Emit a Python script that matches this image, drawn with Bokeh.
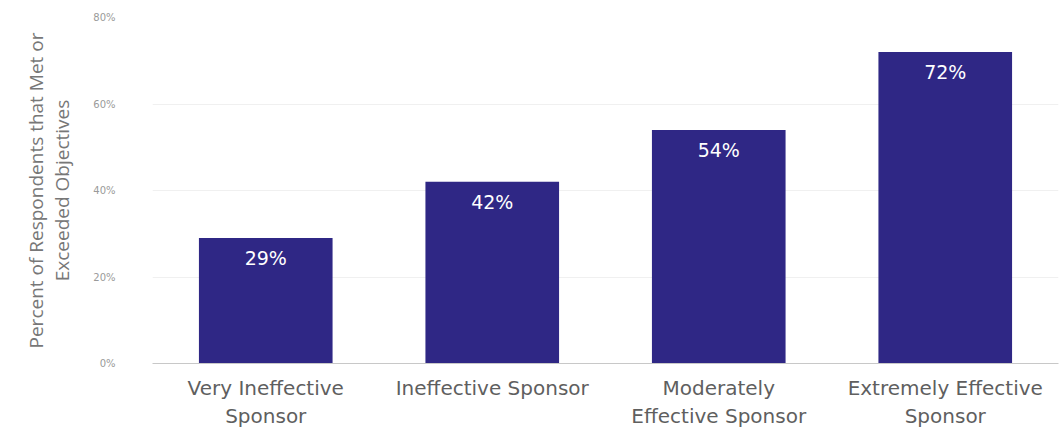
from bokeh.plotting import figure
from bokeh.models import ColumnDataSource, Range1d, FixedTicker, CustomJSTickFormatter
from bokeh.embed import file_html
from bokeh.resources import INLINE
from bokeh.core.properties import value

categories = ["Very Ineffective\nSponsor", "Ineffective Sponsor", "Moderately\nEffective Sponsor", "Extremely Effective\nSponsor"]
values = [29, 42, 54, 72]
labels = ["29%", "42%", "54%", "72%"]
y_ticks = [0, 20, 40, 60, 80]

src = ColumnDataSource(dict(cat=categories, val=values, lab=labels))

p = figure(x_range=categories, y_range=Range1d(0, 80), width=1062, height=431,
           output_backend="svg", toolbar_location=None,
           min_border_left=152, min_border_right=4, min_border_top=17, min_border_bottom=68)
p.outline_line_color = None
p.background_fill_color = "white"
p.border_fill_color = "white"

p.vbar(x="cat", top="val", width=0.59, source=src, fill_color="#2f2785", line_color=None)
p.text(x="cat", y="val", text="lab", source=src, text_color="white",
       text_font=value("DejaVu Sans"), text_font_size="19px", text_align="center",
       text_baseline="middle", y_offset=20)

p.yaxis.ticker = FixedTicker(ticks=y_ticks)
p.yaxis.formatter = CustomJSTickFormatter(code="return tick + '%';")
p.yaxis.axis_line_color = None
p.yaxis.major_tick_line_color = None
p.yaxis.minor_tick_line_color = None
p.yaxis.major_label_text_font = "DejaVu Sans"
p.yaxis.major_label_text_font_size = "10px"
p.yaxis.major_label_text_color = "#9a9a9a"
p.yaxis.major_label_standoff = 31
p.yaxis.axis_label = "Percent of Respondents that Met or\nExceeded Objectives"
p.yaxis.axis_label_text_font = "Open Sans"
p.yaxis.axis_label_text_font_style = "normal"
p.yaxis.axis_label_text_font_size = "19px"
p.yaxis.axis_label_text_line_height = 1.0
p.yaxis.axis_label_text_color = "#777777"
p.yaxis.axis_label_standoff = 15

p.xaxis.axis_line_color = "#c8c8c8"
p.xaxis.major_tick_line_color = None
p.xaxis.minor_tick_line_color = None
p.xaxis.major_label_text_font = "DejaVu Sans"
p.xaxis.major_label_text_font_size = "20px"
p.xaxis.major_label_text_line_height = 1.2
p.xaxis.major_label_text_color = "#5f5f5f"
p.xaxis.major_label_standoff = 6

p.xgrid.grid_line_color = None
p.ygrid.grid_line_color = "#f0f0f0"
p.ygrid.ticker = FixedTicker(ticks=y_ticks)

open("out.html", "w").write(file_html(p, INLINE))
